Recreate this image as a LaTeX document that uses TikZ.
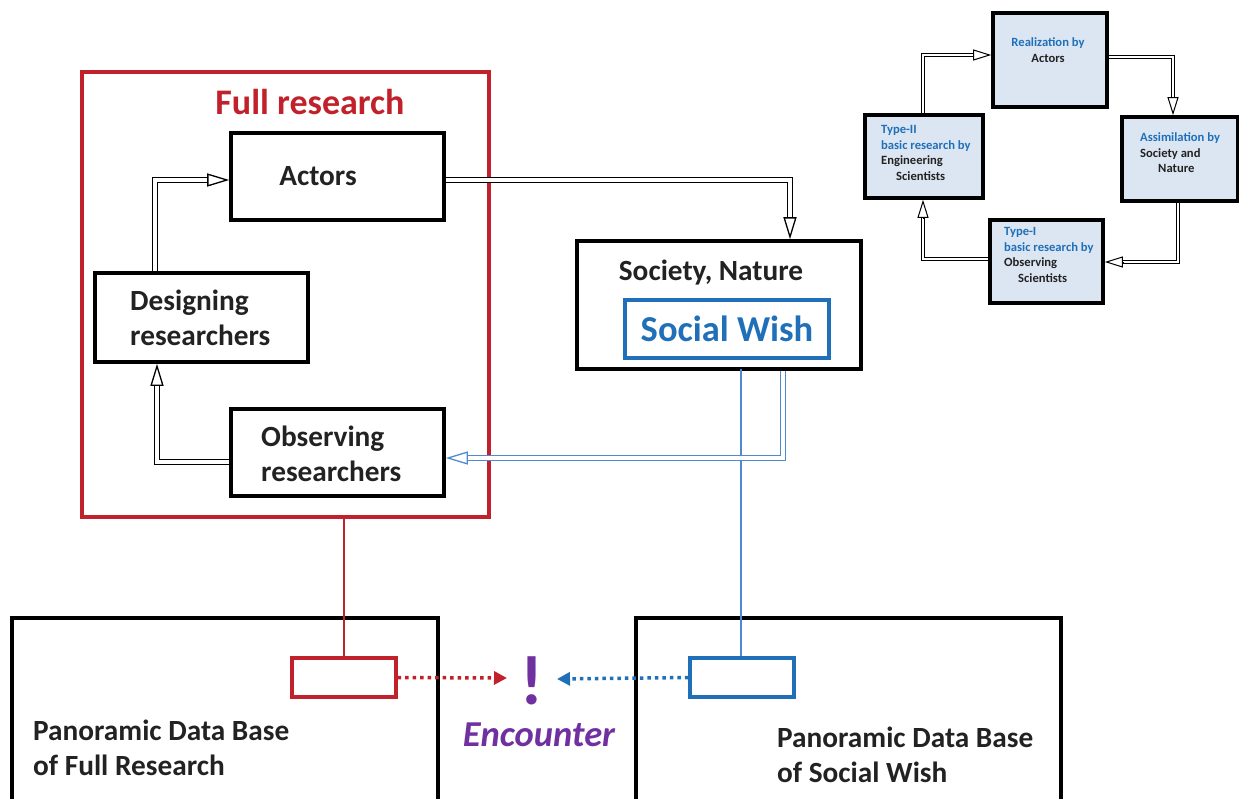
\documentclass[tikz,border=0pt]{standalone}
\usepackage{fontspec}
\setmainfont{Carlito}
\usetikzlibrary{arrows.meta,calc}
\definecolor{fr}{HTML}{C0212B}
\definecolor{wb}{HTML}{1F70B8}
\definecolor{lb}{HTML}{4F8AD0}
\definecolor{pu}{HTML}{7030A0}
\definecolor{lf}{HTML}{DCE6F2}
\definecolor{tx}{HTML}{222222}
\tikzset{
  bx/.style={draw=black, line width=3.6pt, inner sep=0pt},
  sbx/.style={draw=black, line width=3.6pt, fill=lf, inner sep=0pt},
  big/.style={font=\bfseries\fontsize{29.3}{35}\selectfont, text=tx, inner sep=0pt, align=left},
  sm/.style={font=\bfseries\fontsize{12.6}{15.5}\selectfont, text=tx, inner sep=0pt, align=left},
  dbl/.style={draw=#1, line width=1.3pt, double=white, double distance=3.6pt, shorten >=20pt},
  dbl/.default=black,
  tp/.style={draw=#1, line width=1.3pt, -{Triangle[length=22pt,width=13pt,fill=white]}},
  tp/.default=black,
  sdbl/.style={draw=black, line width=1pt, double=white, double distance=2.6pt, shorten >=16pt},
  stp/.style={draw=black, line width=1pt, -{Triangle[length=18pt,width=11pt,fill=white]}},
  dotar/.style={draw=#1, line width=3.5pt, dash pattern=on 3.5pt off 4pt, -{Triangle[length=13pt,width=13pt]}},
  small/.style={draw=#1, line width=3.4pt, minimum width=104pt, minimum height=39pt, inner sep=0pt},
}
\begin{document}
\begin{tikzpicture}[x=1pt,y=-1pt]
\useasboundingbox (0,0) rectangle (1239,798);
\clip (0,0) rectangle (1239,798);
% ---------- Full research frame ----------
\node[draw=fr, line width=3.2pt, minimum width=407pt, minimum height=445pt, inner sep=0pt] (full) at (285.5,294.5) {};
\node[font=\bfseries\fontsize{36}{40}\selectfont, text=fr, inner sep=0pt] (ftitle) at (310,102) {Full research};
\node[bx, minimum width=213pt, minimum height=87pt] (act) at (337.5,176.5) {};
\node[big] (actt) at (318,176) {Actors};
\node[bx, minimum width=213pt, minimum height=89pt] (des) at (201.5,317.5) {};
\node[big, anchor=west] (dest) at (130,318) {Designing\\researchers};
\node[bx, minimum width=213pt, minimum height=87pt] (obs) at (337.5,452.5) {};
\node[big, anchor=west] (obst) at (261,454) {Observing\\researchers};
% ---------- Society ----------
\node[bx, minimum width=284pt, minimum height=128pt] (soc) at (719,305) {};
\node[big] (soct) at (711,273) {Society, Nature};
\node[draw=wb, line width=3.4pt, minimum width=204pt, minimum height=58pt, inner sep=0pt,
      font=\bfseries\fontsize{36.5}{40}\selectfont, text=wb] (wish) at (727,329) {Social Wish};
% ---------- bottom data bases ----------
\node[draw=black, line width=3.2pt, minimum width=426pt, minimum height=200pt, inner sep=0pt] (pdl) at (225,718) {};
\node[draw=black, line width=3.2pt, minimum width=425pt, minimum height=200pt, inner sep=0pt] (pdr) at (848.5,718) {};
\node[big, anchor=west] (pdlt) at (33,748) {Panoramic Data Base\\of Full Research};
\node[big, anchor=west] (pdrt) at (777,755) {Panoramic Data Base\\of Social Wish};
\node[small=fr] (rsm) at (344,677.5) {};
\node[small=wb] (bsm) at (742,677.5) {};
\node[font=\bfseries\fontsize{70}{74}\selectfont, text=pu, inner sep=0pt, minimum width=50pt] (excl) at (532,681) {!};
\node[font=\bfseries\itshape\fontsize{36.5}{40}\selectfont, text=pu, inner sep=0pt] (enc) at (539,735) {Encounter};
\draw[fr, line width=2.2pt] (rsm.north |- full.south) -- (rsm.north);
\draw[lb, line width=2.2pt] (741,369) coordinate (bl) -- (bl |- bsm.north);
\coordinate (da) at (507,678);
\coordinate (db) at (557,679);
\draw[dotar=fr] (rsm.east) -- (da);
\draw[dotar=wb] (bsm.west) -- (db);
% ---------- main double arrows ----------
\coordinate (c5) at (155,180);
\coordinate (e5) at (c5 -| act.west);
\draw[dbl] (c5 |- des.north) -- (c5) -- (e5);
\draw[tp] ($(e5)!22pt!(c5)$) -- (e5);
\coordinate (c6) at (157,462);
\coordinate (e6) at (c6 |- des.south);
\draw[dbl] (c6 -| obs.west) -- (c6) -- (e6);
\draw[tp] ($(e6)!22pt!(c6)$) -- (e6);
\coordinate (c7) at (790,180);
\coordinate (e7) at (c7 |- soc.north);
\draw[dbl] (c7 -| act.east) -- (c7) -- (e7);
\draw[tp] ($(e7)!22pt!(c7)$) -- (e7);
\coordinate (c8) at (783,458);
\coordinate (e8) at (c8 -| obs.east);
\draw[dbl=lb] (c8 |- soc.south) -- (c8) -- (e8);
\draw[tp=lb] ($(e8)!22pt!(c8)$) -- (e8);
% ---------- small cycle ----------
\node[sbx, minimum width=114pt, minimum height=94pt] (real) at (1050,60) {};
\node[sm, align=center] (realt) at (1048,50) {\textcolor{wb}{Realization by}\\Actors};
\node[sbx, minimum width=116pt, minimum height=84pt] (assim) at (1180,159) {};
\node[sm, anchor=west] (assimt) at (1140,153) {\textcolor{wb}{Assimilation by}\\Society and\\\hspace*{18pt}Nature};
\node[sbx, minimum width=113pt, minimum height=83pt] (typeI) at (1046.5,261.5) {};
\node[sm, anchor=west] (typeIt) at (1004,255) {\textcolor{wb}{Type-I}\\\textcolor{wb}{basic research by}\\Observing\\\hspace*{14pt}Scientists};
\node[sbx, minimum width=118pt, minimum height=83pt] (typeII) at (924,156.5) {};
\node[sm, anchor=west] (typeIIt) at (881,153) {\textcolor{wb}{Type-II}\\\textcolor{wb}{basic research by}\\Engineering\\\hspace*{15pt}Scientists};
\coordinate (c1) at (923,55);
\coordinate (e1) at (c1 -| real.west);
\draw[sdbl] (c1 |- typeII.north) -- (c1) -- (e1);
\draw[stp] ($(e1)!18pt!(c1)$) -- (e1);
\coordinate (c2) at (1173,57);
\coordinate (e2) at (c2 |- assim.north);
\draw[sdbl] (c2 -| real.east) -- (c2) -- (e2);
\draw[stp] ($(e2)!18pt!(c2)$) -- (e2);
\coordinate (c3) at (1178,262);
\coordinate (e3) at (c3 -| typeI.east);
\draw[sdbl] (c3 |- assim.south) -- (c3) -- (e3);
\draw[stp] ($(e3)!18pt!(c3)$) -- (e3);
\coordinate (c4) at (923,259);
\coordinate (e4) at (c4 |- typeII.south);
\draw[sdbl] (c4 -| typeI.west) -- (c4) -- (e4);
\draw[stp] ($(e4)!18pt!(c4)$) -- (e4);
\end{tikzpicture}
\end{document}
